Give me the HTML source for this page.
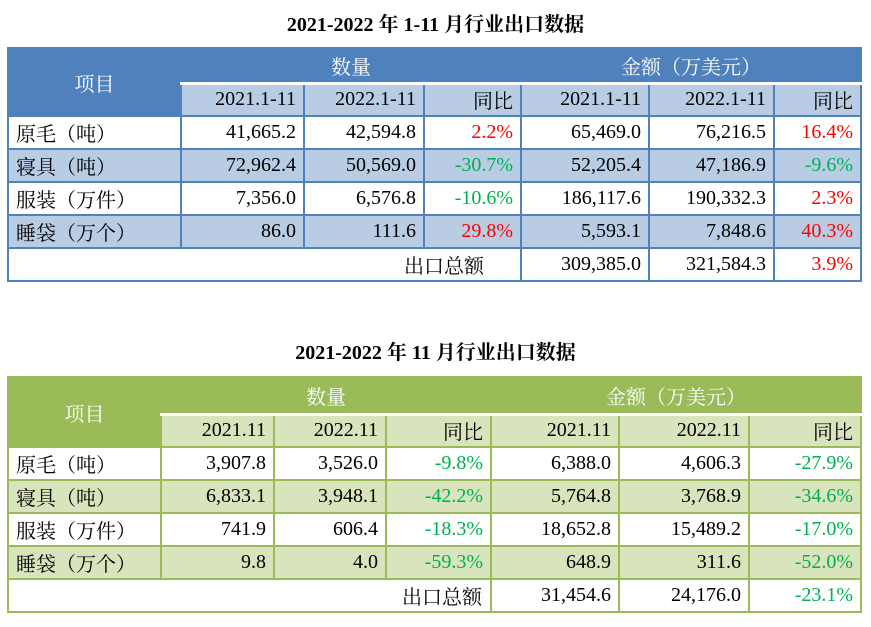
<!DOCTYPE html>
<html><head><meta charset="utf-8"><style>
body{margin:0;width:871px;height:627px;background:#fff;position:relative;overflow:hidden;font-family:"Liberation Serif","Noto Serif CJK SC",serif;}
.title{position:absolute;left:0;width:871px;text-align:center;font-weight:bold;font-size:20px;}
table{position:absolute;border-collapse:collapse;table-layout:fixed;font-size:20px;}
td{padding:0 7px;text-align:right;white-space:nowrap;overflow:hidden;}
.b td{border:2px solid #4f81bd;}
.g td{border:2px solid #9bbb59;}
.b .h{background:#4f81bd;color:#fff;text-align:center;}
.g .h{background:#9bbb59;color:#fff;text-align:center;}
.b .s{background:#b8cce4;}
.g .s{background:#d7e4bc;}
.b .s td,.g .s td{border-top:3px solid #fff;}
.l{text-align:left;}
.r{color:#ff0000}.gr{color:#00b050}
</style></head><body>
<div class="title" style="top:8px">2021-2022 年 1-11 月行业出口数据</div>
<table class="b" style="left:7px;top:47px;width:853px">
<colgroup><col style="width:173px"><col style="width:123px"><col style="width:120px"><col style="width:97px"><col style="width:128px"><col style="width:125px"><col style="width:87px"></colgroup>
<tr style="height:35px"><td class="h" rowspan="2" style="vertical-align:middle">项目</td><td class="h" colspan="3">数量</td><td class="h" colspan="3">金额（万美元）</td></tr>
<tr class="s" style="height:33px"><td>2021.1-11</td><td>2022.1-11</td><td>同比</td><td>2021.1-11</td><td>2022.1-11</td><td>同比</td></tr>
<tr style="height:33px"><td class="l">原毛（吨）</td><td>41,665.2</td><td>42,594.8</td><td class="r">2.2%</td><td>65,469.0</td><td>76,216.5</td><td class="r">16.4%</td></tr>
<tr style="height:33px;background:#b8cce4"><td class="l">寝具（吨）</td><td>72,962.4</td><td>50,569.0</td><td class="gr">-30.7%</td><td>52,205.4</td><td>47,186.9</td><td class="gr">-9.6%</td></tr>
<tr style="height:33px"><td class="l">服装（万件）</td><td>7,356.0</td><td>6,576.8</td><td class="gr">-10.6%</td><td>186,117.6</td><td>190,332.3</td><td class="r">2.3%</td></tr>
<tr style="height:33px;background:#b8cce4"><td class="l">睡袋（万个）</td><td>86.0</td><td>111.6</td><td class="r">29.8%</td><td>5,593.1</td><td>7,848.6</td><td class="r">40.3%</td></tr>
<tr style="height:33px"><td colspan="4" style="padding-right:36px">出口总额</td><td>309,385.0</td><td>321,584.3</td><td class="r">3.9%</td></tr>
</table>

<div class="title" style="top:336px">2021-2022 年 11 月行业出口数据</div>
<table class="g" style="left:7px;top:376px;width:853px">
<colgroup><col style="width:153px"><col style="width:113px"><col style="width:112px"><col style="width:105px"><col style="width:128px"><col style="width:130px"><col style="width:112px"></colgroup>
<tr style="height:37px"><td class="h" rowspan="2" style="vertical-align:middle">项目</td><td class="h" colspan="3">数量</td><td class="h" colspan="3">金额（万美元）</td></tr>
<tr class="s" style="height:33px"><td>2021.11</td><td>2022.11</td><td>同比</td><td>2021.11</td><td>2022.11</td><td>同比</td></tr>
<tr style="height:33px"><td class="l">原毛（吨）</td><td>3,907.8</td><td>3,526.0</td><td class="gr">-9.8%</td><td>6,388.0</td><td>4,606.3</td><td class="gr">-27.9%</td></tr>
<tr style="height:33px;background:#d7e4bc"><td class="l">寝具（吨）</td><td>6,833.1</td><td>3,948.1</td><td class="gr">-42.2%</td><td>5,764.8</td><td>3,768.9</td><td class="gr">-34.6%</td></tr>
<tr style="height:33px"><td class="l">服装（万件）</td><td>741.9</td><td>606.4</td><td class="gr">-18.3%</td><td>18,652.8</td><td>15,489.2</td><td class="gr">-17.0%</td></tr>
<tr style="height:33px;background:#d7e4bc"><td class="l">睡袋（万个）</td><td>9.8</td><td>4.0</td><td class="gr">-59.3%</td><td>648.9</td><td>311.6</td><td class="gr">-52.0%</td></tr>
<tr style="height:33px"><td colspan="4" style="padding-right:8px">出口总额</td><td>31,454.6</td><td>24,176.0</td><td class="gr">-23.1%</td></tr>
</table>
</body></html>
